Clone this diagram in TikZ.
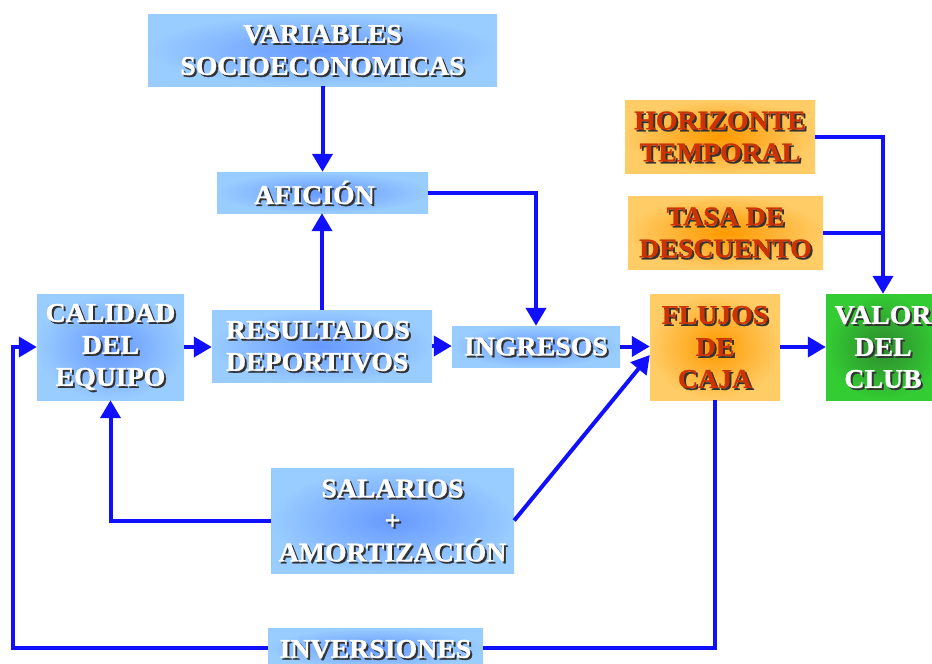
\documentclass[tikz,border=0pt]{standalone}
\usepackage{fontspec}
\setmainfont[BoldFeatures={FakeStretch=1.03,FakeBold=1}]{Liberation Serif}
\usetikzlibrary{arrows.meta,calc}
\definecolor{lblue}{HTML}{99CCFF}
\definecolor{cblue}{HTML}{6699FF}
\definecolor{lorange}{HTML}{FFCC66}
\definecolor{corange}{HTML}{FF9900}
\definecolor{lgreen}{HTML}{33CC33}
\definecolor{cgreen}{HTML}{2E8B2E}
\definecolor{cline}{RGB}{16,16,255}
\definecolor{redtext}{HTML}{CC3300}
\tikzset{
  bluebox/.style={inner sep=0, shading=radial, inner color=cblue, outer color=lblue},
  orangebox/.style={inner sep=0, shading=radial, inner color=corange, outer color=lorange},
  greenbox/.style={inner sep=0, shading=radial, inner color=cgreen, outer color=lgreen},
  conn/.style={draw=cline, line width=4pt},
  arr/.style={conn, -{Triangle[length=18pt,width=20pt]}},
  lbl/.style={inner sep=0, font=\fontsize{27}{32}\selectfont\bfseries}
}
\newcommand\boxlabel[4]{%
  \node[lbl,text=black!80,align=#3] at ([shift={(2,2)}]#1) {#4};
  \node[lbl,text=#2,align=#3] at (#1) {#4};}
\begin{document}
\begin{tikzpicture}[x=1pt,y=-1pt]
\useasboundingbox (0,0) rectangle (932,664);
\clip (0,0) rectangle (932,664);
% boxes
\node[bluebox,minimum width=349,minimum height=72] (vs) at (322.5,50) {};
\node[bluebox,minimum width=211,minimum height=41] (af) at (322.5,192.5) {};
\node[bluebox,minimum width=147,minimum height=106] (cal) at (110.5,347) {};
\node[bluebox,minimum width=220,minimum height=72] (rd) at (322,346) {};
\node[bluebox,minimum width=168,minimum height=41] (ing) at (536,346.5) {};
\node[bluebox,minimum width=243,minimum height=105] (sal) at (392.5,520.5) {};
\node[bluebox,minimum width=215,minimum height=40] (inv) at (375.5,648) {};
\node[orangebox,minimum width=190,minimum height=73] (hz) at (720,136.5) {};
\node[orangebox,minimum width=195,minimum height=73] (td) at (725.5,232.5) {};
\node[orangebox,minimum width=130,minimum height=106] (fl) at (715,347) {};
\node[greenbox,minimum width=114,minimum height=106] (val) at (883,347) {};
% labels
\boxlabel{vs.center}{white}{center}{VARIABLES\\SOCIOECONOMICAS}
\boxlabel{$(af.center)+(-8,0)$}{white}{center}{AFICIÓN}
\boxlabel{cal.center}{white}{center}{CALIDAD\\DEL\\EQUIPO}
\boxlabel{$(rd.center)+(-4,0)$}{white}{left}{RESULTADOS\\DEPORTIVOS}
\boxlabel{ing.center}{white}{center}{INGRESOS}
\boxlabel{sal.center}{white}{center}{SALARIOS\\+\\AMORTIZACIÓN}
\boxlabel{$(inv.center)+(0,1)$}{white}{center}{INVERSIONES}
\boxlabel{hz.center}{redtext}{center}{HORIZONTE\\TEMPORAL}
\boxlabel{td.center}{redtext}{center}{TASA DE\\DESCUENTO}
\boxlabel{fl.center}{redtext}{center}{FLUJOS\\DE\\CAJA}
\boxlabel{val.center}{white}{center}{VALOR\\DEL\\CLUB}
% connectors
\draw[arr] (vs.south) -- (af.north);
\draw[arr] (rd.north) -- (rd.north |- af.south);
\draw[arr] (af.east) -| (ing.north);
\draw[arr] (cal.east) -- (cal.east -| rd.west);
\draw[arr] (rd.east) -- (rd.east -| ing.west);
\draw[arr] (ing.east) -- (ing.east -| fl.west);
\draw[arr] (sal.west) -| (cal.south);
\draw[arr] (sal.east) -- ([yshift=-8pt]fl.west);
\draw[conn] (fl.south) |- (inv.east);
\coordinate (lft) at (13,648);
\draw[arr] (inv.west) -- (lft) |- (cal.west);
\draw[arr] (hz.east) -| (val.north);
\draw[conn] (td.east) -- (td.east -| val.north);
\draw[arr] (fl.east) -- (val.west);
\end{tikzpicture}
\end{document}
